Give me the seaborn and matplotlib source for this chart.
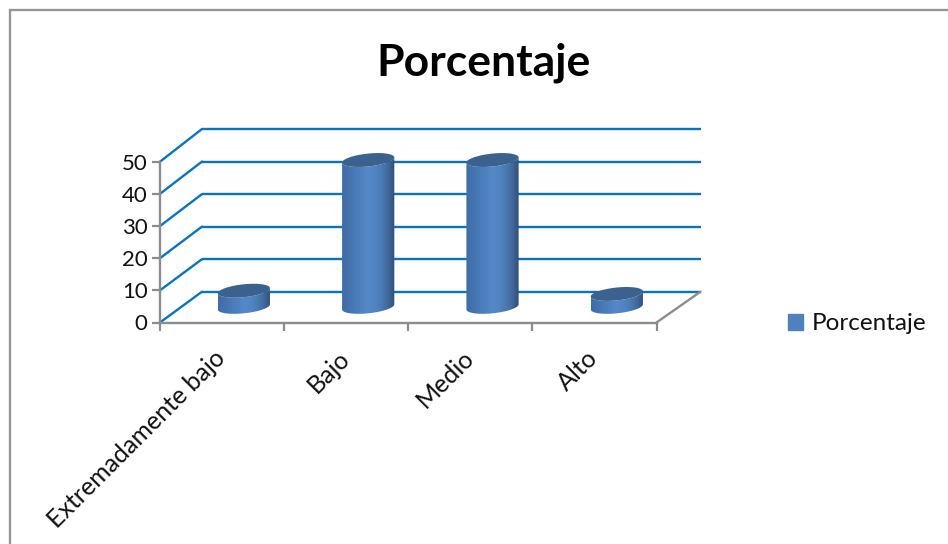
import numpy as np
import pandas as pd
import matplotlib.pyplot as plt
import seaborn as sns
from matplotlib.colors import LinearSegmentedColormap
from matplotlib.patches import ConnectionPatch, Patch, Polygon, Rectangle
from matplotlib.transforms import ScaledTranslation

categories = ['Extremadamente bajo', 'Bajo', 'Medio', 'Alto']
values = [5, 45.5, 45.5, 4]
y_ticks = [0, 10, 20, 30, 40, 50]
series_name = 'Porcentaje'

W, H = 948, 544
sns.set_theme(style='white')
plt.rcParams['font.family'] = ['Lato', 'DejaVu Sans']
TEXT = '#111111'
GRAY = '#8c8c8c'
BLUE = '#0b72bd'


def px_rect(left, right, top, bottom):
    # pixel box of the picture -> figure fractions
    return [left / W, 1 - bottom / H, (right - left) / W, (bottom - top) / H]


fig = plt.figure(figsize=(W / 100, H / 100), dpi=100, facecolor='white')

# outer chart frame, only top and left are in the crop
fig.add_artist(Rectangle((9.5 / W, -0.1), 1.2, 1.1 - 10.5 / H, transform=fig.transFigure,
                         fill=False, edgecolor='#969696', linewidth=1.7, zorder=0))

# back wall
ax_back = fig.add_axes(px_rect(202, 700.5, 129, 291.7), zorder=1)
ax_back.set_xlim(-0.5, 3.5)
ax_back.set_ylim(0, 50)
ax_back.axis('off')
for t in y_ticks:
    ax_back.plot([-0.5, 3.5], [t, t], color=BLUE, linewidth=1.7, clip_on=False, solid_capstyle='butt')

# front plane with the axes
ax = fig.add_axes(px_rect(160, 656.5, 161.7, 322.5), zorder=3)
ax.patch.set_alpha(0)
ax.set_xlim(-0.5, 3.5)
ax.set_ylim(0, 50)
for s in ['top', 'right']:
    ax.spines[s].set_visible(False)
for s in ['left', 'bottom']:
    ax.spines[s].set_color(GRAY)
    ax.spines[s].set_linewidth(1.7)
ax.set_yticks(y_ticks)
ax.set_yticklabels([str(t) for t in y_ticks], fontsize=16, color=TEXT)
ax.set_xticks(np.arange(-0.5, 4, 1))
ax.set_xticklabels([])
ax.set_xticks(range(len(categories)), minor=True)
ax.set_xticklabels(categories, minor=True, rotation=45, ha='right', va='top',
                   rotation_mode='anchor', fontsize=18, color=TEXT)
ax.tick_params(axis='both', which='major', length=6, width=1.6, color=GRAY, left=True, bottom=True, pad=3)
ax.tick_params(axis='x', which='minor', length=0, pad=17)
shift = ScaledTranslation(-6 / 72, 0, fig.dpi_scale_trans)
for lab in ax.get_xticklabels(minor=True):
    lab.set_transform(lab.get_transform() + shift)

# side wall and floor run from the front plane to the back wall
for t in y_ticks:
    fig.add_artist(ConnectionPatch((-0.5, t), (-0.5, t), 'data', 'data', axesA=ax, axesB=ax_back,
                                   color=BLUE, linewidth=1.7, zorder=2))
fig.add_artist(ConnectionPatch((3.5, 0), (3.5, 0), 'data', 'data', axesA=ax, axesB=ax_back,
                               color=GRAY, linewidth=1.7, zorder=2))

# cylinders sit half way into the depth
ax_bars = fig.add_axes(px_rect(181.7, 679, 145.5, 323), zorder=4)
df = pd.DataFrame({'categoria': categories, 'valor': values})
sns.barplot(data=df, x='categoria', y='valor', width=0.42, color='#4f81bd', ax=ax_bars)
ax_bars.set_xlim(-0.5, 3.5)
ax_bars.set_ylim(-5, 50)
ax_bars.axis('off')

body_cmap = LinearSegmentedColormap.from_list(
    'cyl', ['#3f6da6', '#4473ad', '#497cb8', '#4f82c0', '#5488c8', '#5184c2', '#4a7ab4', '#42699c', '#2f5079'])
RIM_H = 2.0   # half height of the ellipse, in data units
TILT = 0.8    # right side sits higher than the left

for bar in list(ax_bars.patches):
    x0, w, v = bar.get_x(), bar.get_width(), bar.get_height()
    bar.set_visible(False)
    cx = x0 + w / 2
    t = np.linspace(np.pi, 2 * np.pi, 40)
    low_x = cx + w / 2 * np.cos(t)
    low_y = RIM_H * np.sin(t) + TILT * np.cos(t)
    outline = np.column_stack([np.r_[low_x, low_x[::-1]], np.r_[low_y, low_y[::-1] + v]])
    im = ax_bars.imshow(np.linspace(0, 1, 64).reshape(1, -1), cmap=body_cmap, aspect='auto',
                        extent=(x0, x0 + w, -5, 50), zorder=5)
    im.set_clip_path(Polygon(outline, transform=ax_bars.transData))
    t = np.linspace(0, 2 * np.pi, 80)
    ax_bars.fill(cx + w / 2 * np.cos(t), v + RIM_H * np.sin(t) + TILT * np.cos(t),
                 color='#3b628f', linewidth=0, zorder=6)
ax_bars.set_xlim(-0.5, 3.5)
ax_bars.set_ylim(-5, 50)

fig.text(484 / W, 1 - 63 / H, series_name, fontsize=32, fontweight='bold', color='black',
         ha='center', va='center')

fig.legend(handles=[Patch(color='#4f81bd', label=series_name)], loc='center left',
           bbox_to_anchor=(788 / W, 1 - 324 / H), frameon=False, fontsize=17.5, labelcolor=TEXT,
           handlelength=0.62, handleheight=0.62, handletextpad=0.35, borderpad=0, borderaxespad=0)

fig.savefig('out.png', dpi=100)
